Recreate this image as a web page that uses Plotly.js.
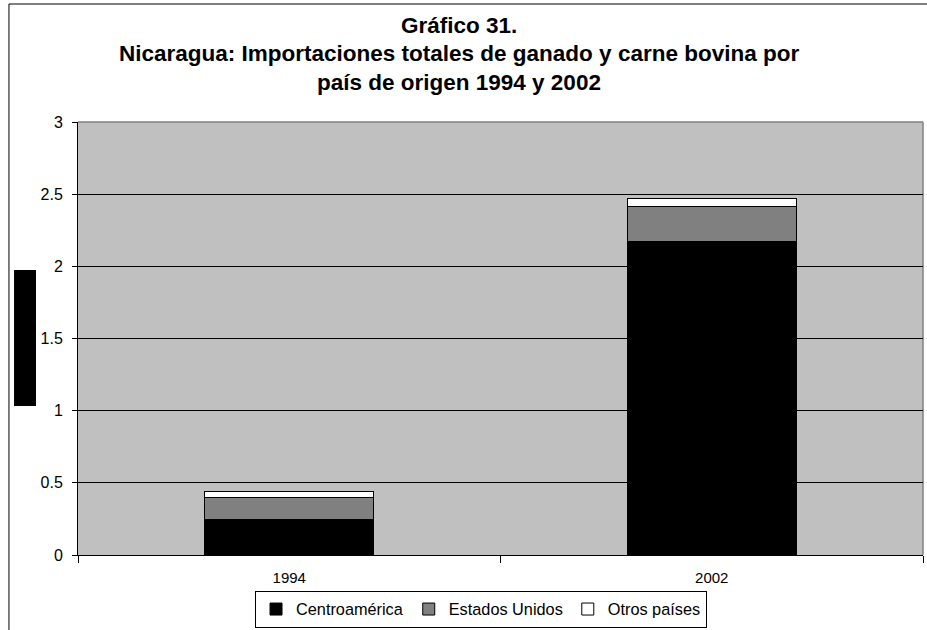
<!DOCTYPE html>
<html>
<head>
<meta charset="utf-8">
<script src="https://cdn.plot.ly/plotly-3.0.1.min.js"></script>
<style>
  html, body { margin: 0; padding: 0; background: #fff; }
  #chart { width: 927px; height: 630px; }
</style>
</head>
<body>
<div id="chart"></div>
<script>
var years = ['1994', '2002'];
var centroamerica = [0.243, 2.174];
var estadosUnidos = [0.157, 0.240];
var otrosPaises = [0.041, 0.057];
var seriesNames = ['Centroamérica', 'Estados Unidos', 'Otros países'];
var seriesColors = ['#000000', '#808080', '#FFFFFF'];
var titleLines = ['Gráfico 31.', 'Nicaragua: Importaciones totales de ganado y carne bovina por', 'país de origen 1994 y 2002'];
var yTicks = [0, 0.5, 1, 1.5, 2, 2.5, 3];

var FONT = '"Liberation Sans", Arial, sans-serif';
var values = [centroamerica, estadosUnidos, otrosPaises];

var traces = values.map(function (v, i) {
  return {
    type: 'bar',
    name: seriesNames[i],
    x: years,
    y: v,
    marker: { color: seriesColors[i], line: { color: '#000000', width: 1 } },
    hoverinfo: 'x+y+name'
  };
});

var titleY = [1.224, 1.1593, 1.0901];
var annotations = titleLines.map(function (t, i) {
  return {
    text: '<b>' + t + '</b>',
    xref: 'paper', yref: 'paper',
    x: 0.451, y: titleY[i],
    xanchor: 'center', yanchor: 'middle',
    showarrow: false,
    font: { family: FONT, size: 22.5, color: '#000' }
  };
});

var layout = {
  width: 927,
  height: 630,
  margin: { l: 78, r: 4, t: 122, b: 75, autoexpand: false },
  paper_bgcolor: '#ffffff',
  plot_bgcolor: '#C0C0C0',
  barmode: 'stack',
  bargap: 0.6,
  showlegend: true,
  font: { family: FONT, color: '#000' },
  xaxis: {
    type: 'category',
    showline: true, linecolor: '#000', linewidth: 1,
    ticks: 'outside', tickson: 'boundaries', ticklen: 7, tickcolor: '#000',
    tickfont: { family: FONT, size: 15, color: '#000' },
    ticklabelstandoff: 9,
    showgrid: false, zeroline: false, fixedrange: true
  },
  yaxis: {
    range: [0, 3],
    tickvals: yTicks,
    showline: true, linecolor: '#000', linewidth: 1,
    ticks: 'outside', ticklen: 5, tickcolor: '#000',
    tickfont: { family: FONT, size: 16, color: '#000' },
    ticklabelstandoff: 6,
    showgrid: true, gridcolor: '#000', gridwidth: 1,
    zeroline: false, fixedrange: true
  },
  legend: {
    orientation: 'h',
    x: 0.2095, xanchor: 'left',
    y: -0.083, yanchor: 'top',
    bordercolor: '#000', borderwidth: 1,
    bgcolor: '#fff',
    font: { family: FONT, size: 16.3, color: '#000' },
    traceorder: 'normal',
    itemwidth: 30
  },
  annotations: annotations,
  shapes: [
    { type: 'line', xref: 'paper', yref: 'paper', x0: 0, x1: 1, y0: 1, y1: 1,
      line: { color: '#808080', width: 1.5 }, layer: 'below' },
    { type: 'line', xref: 'paper', yref: 'paper', x0: 1, x1: 1, y0: 0, y1: 1,
      line: { color: '#808080', width: 1.5 }, layer: 'below' },
    { type: 'rect', xref: 'paper', yref: 'paper', x0: -0.0817, x1: 1.2, y0: -0.3, y1: 1.2725,
      line: { color: '#000', width: 1 }, fillcolor: 'rgba(0,0,0,0)', layer: 'below' },
    { type: 'rect', xref: 'paper', yref: 'paper', x0: -0.0757, x1: -0.0497, y0: 0.344, y1: 0.658,
      line: { width: 0 }, fillcolor: '#000', layer: 'above' }
  ]
};

Plotly.newPlot('chart', traces, layout, { displayModeBar: false, staticPlot: true });
</script>
</body>
</html>
